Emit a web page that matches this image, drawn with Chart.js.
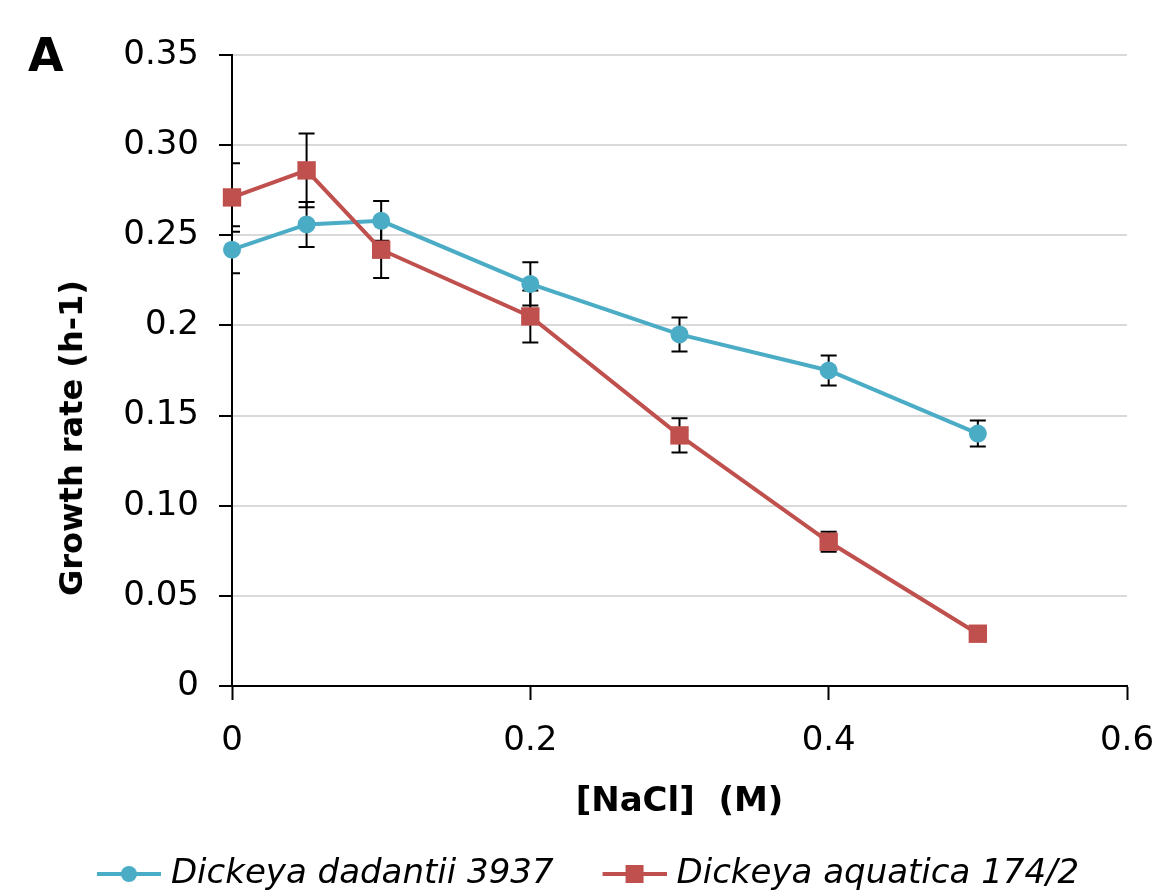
<!DOCTYPE html>
<html>
<head>
<meta charset="utf-8">
<script src="https://cdn.jsdelivr.net/npm/chart.js@4/dist/chart.umd.min.js"></script>
<style>
  html, body { margin: 0; padding: 0; background: #fff; }
  #wrap { position: relative; width: 1157px; height: 895px; }
  #growth-chart { position: absolute; left: 0; top: 0; }
  .panel-letter {
    position: absolute; left: 28px; top: 28px;
    font: bold 46px "DejaVu Sans", sans-serif; color: #000;
  }
  .y-title {
    position: absolute; left: 71px; top: 438px;
    transform: translate(-50%, -50%) rotate(-90deg);
    white-space: nowrap;
    font: bold 32px "DejaVu Sans", sans-serif; color: #000;
  }
</style>
</head>
<body>
<div id="wrap">
  <canvas id="growth-chart" width="1157" height="895"></canvas>
  <div class="panel-letter">A</div>
  <div class="y-title">Growth rate (h-1)</div>
</div>
<script>
// NaCl concentrations (M)
const nacl = [0, 0.05, 0.1, 0.2, 0.3, 0.4, 0.5];

// Growth rates (h-1) and standard deviations per strain
const dadantiiRate = [0.242, 0.256, 0.258, 0.223, 0.195, 0.175, 0.140];
const dadantiiErr  = [0.013, 0.0125, 0.011, 0.012, 0.0094, 0.0083, 0.0072];
const aquaticaRate = [0.271, 0.286, 0.242, 0.205, 0.139, 0.080, 0.029];
const aquaticaErr  = [0.019, 0.0205, 0.0157, 0.0144, 0.0095, 0.0055, 0.003];

const seriesNames = ['Dickeya dadantii 3937', 'Dickeya aquatica 174/2'];

// Axis labels as printed (mixed decimals)
const yTickLabels = ['0', '0.05', '0.10', '0.15', '0.2', '0.25', '0.30', '0.35'];
const xTickLabels = ['0', '0.2', '0.4', '0.6'];

const BLUE = '#4bacc6';
const RED = '#c0504d';
const FONT = '"DejaVu Sans", sans-serif';

// Legend icon geometry: box width used by the legend, icon canvas is a bit wider
const ICON_BOX = 106;
const ICON_W = 120;

function toPoints(xs, ys) {
    return xs.map((x, i) => ({ x: x, y: ys[i] }));
}

/**
 * Legend icon: a line segment with the series marker in the middle,
 * pushed to the right end so it sits close to the label text
 */
function legendIcon(color, shape) {
    const c = document.createElement('canvas');
    c.width = ICON_W;
    c.height = 24;
    const g = c.getContext('2d');
    const right = ICON_W, left = right - 64, mid = (left + right) / 2;
    g.strokeStyle = color;
    g.lineWidth = 4;
    g.beginPath();
    g.moveTo(left, 12);
    g.lineTo(right, 12);
    g.stroke();
    g.fillStyle = color;
    if (shape === 'circle') {
        g.beginPath();
        g.arc(mid, 12, 8, 0, Math.PI * 2);
        g.fill();
    } else {
        g.fillRect(mid - 9, 3, 18, 18);
    }
    return c;
}

const legendIcons = [legendIcon(BLUE, 'circle'), legendIcon(RED, 'rect')];
const errors = [dadantiiErr, aquaticaErr];

// Vertical error bars with caps, drawn under the lines
const errorBars = {
    id: 'errorBars',
    beforeDatasetsDraw(chart) {
        const { ctx, chartArea, scales } = chart;
        ctx.save();
        ctx.beginPath();
        ctx.rect(chartArea.left, chartArea.top - 30, chartArea.right - chartArea.left, chartArea.bottom - chartArea.top + 30);
        ctx.clip();
        ctx.strokeStyle = '#000';
        ctx.lineWidth = 2;
        chart.data.datasets.forEach((ds, di) => {
            ds.data.forEach((p, i) => {
                const err = errors[di][i];
                const px = scales.x.getPixelForValue(p.x);
                const top = scales.y.getPixelForValue(p.y + err);
                const bot = scales.y.getPixelForValue(p.y - err);
                ctx.beginPath();
                ctx.moveTo(px, top);
                ctx.lineTo(px, bot);
                ctx.moveTo(px - 8, top);
                ctx.lineTo(px + 8, top);
                ctx.moveTo(px - 8, bot);
                ctx.lineTo(px + 8, bot);
                ctx.stroke();
            });
        });
        ctx.restore();
    }
};

const ctx = document.getElementById('growth-chart').getContext('2d');

new Chart(ctx, {
    type: 'line',
    data: {
        datasets: [
            {
                label: seriesNames[0],
                data: toPoints(nacl, dadantiiRate),
                borderColor: BLUE,
                backgroundColor: BLUE,
                borderWidth: 4,
                pointStyle: 'circle',
                pointRadius: 9,
                pointBorderWidth: 0,
                clip: false,
                order: 1
            },
            {
                label: seriesNames[1],
                data: toPoints(nacl, aquaticaRate),
                borderColor: RED,
                backgroundColor: RED,
                borderWidth: 4,
                pointStyle: 'rect',
                pointRadius: 13,
                pointBorderWidth: 0,
                clip: false,
                order: 0
            }
        ]
    },
    options: {
        responsive: false,
        animation: false,
        layout: {
            padding: { top: 55, right: 30, bottom: -6, left: 0 }
        },
        plugins: {
            tooltip: { enabled: false },
            legend: {
                display: true,
                position: 'bottom',
                labels: {
                    usePointStyle: true,
                    pointStyleWidth: ICON_BOX,
                    boxHeight: 24,
                    padding: 0,
                    color: '#000',
                    font: { family: FONT, size: 34, style: 'italic' },
                    sort: (a, b) => a.datasetIndex - b.datasetIndex,
                    generateLabels(chart) {
                        const items = Chart.defaults.plugins.legend.labels.generateLabels(chart);
                        items.forEach(item => { item.pointStyle = legendIcons[item.datasetIndex]; });
                        return items;
                    }
                }
            }
        },
        scales: {
            x: {
                type: 'linear',
                min: 0,
                max: 0.6,
                afterFit(scale) {
                    scale.height = 171;
                    scale.paddingRight = 0;
                    scale.paddingLeft = 0;
                },
                ticks: {
                    stepSize: 0.2,
                    padding: 21,
                    color: '#000',
                    font: { family: FONT, size: 34 },
                    callback: (value, index) => xTickLabels[index]
                },
                grid: {
                    drawOnChartArea: false,
                    tickLength: 14,
                    tickColor: '#000',
                    tickWidth: 2
                },
                border: { color: '#000', width: 2 },
                title: {
                    display: true,
                    text: '[NaCl]  (M)',
                    color: '#000',
                    font: { family: FONT, size: 34, weight: 'bold' },
                    padding: { top: 0, bottom: 34 }
                }
            },
            y: {
                min: 0,
                max: 0.35,
                afterFit(scale) { scale.width = 232; },
                ticks: {
                    stepSize: 0.05,
                    padding: 20,
                    color: '#000',
                    font: { family: FONT, size: 34 },
                    callback: (value, index) => yTickLabels[index]
                },
                grid: {
                    color: '#d9d9d9',
                    lineWidth: 2,
                    tickLength: 13,
                    tickColor: '#000',
                    tickWidth: 2
                },
                border: { color: '#000', width: 2 }
            }
        }
    },
    plugins: [errorBars]
});
</script>
</body>
</html>
